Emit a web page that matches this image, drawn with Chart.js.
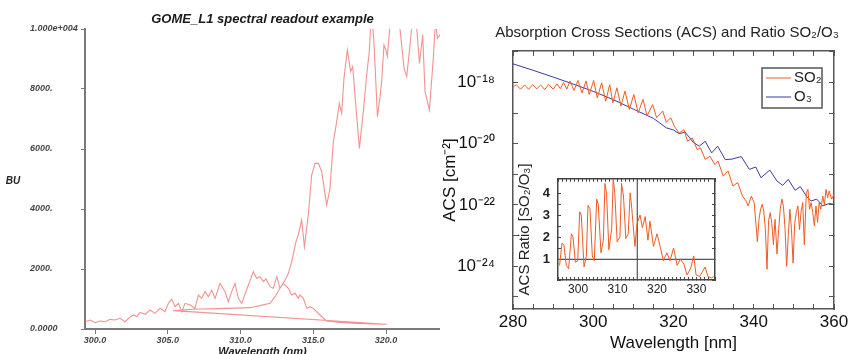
<!DOCTYPE html>
<html>
<head>
<meta charset="utf-8">
<script src="https://cdn.jsdelivr.net/npm/chart.js@4.4.1/dist/chart.umd.min.js"></script>
<style>
  html, body { margin: 0; padding: 0; background: #fff; }
  #wrap { position: relative; width: 856px; height: 354px; overflow: hidden; }
  canvas { position: absolute; }
</style>
</head>
<body>
<div id="wrap">
  <canvas id="gome" width="440" height="354" style="left:0;top:0;width:440px;height:354px"></canvas>
  <canvas id="acs" width="416" height="354" style="left:440px;top:0;width:416px;height:354px"></canvas>
  <canvas id="ratio" width="210" height="140" style="left:515px;top:160px;width:210px;height:140px"></canvas>
</div>
<script>
// ---- left panel: GOME_L1 readout, two channels drawn as one polyline ----
const gomeCh1Wl = [
  299.31, 299.66, 300.00, 300.34, 300.69, 301.03, 301.37, 301.72, 302.06, 302.29,
  302.63, 302.87, 303.09, 303.44, 303.78, 304.12, 304.47, 304.81, 305.04, 305.27,
  305.50, 305.73, 305.96, 306.19, 306.53, 306.87, 307.10, 307.33, 307.56, 307.79,
  308.02, 308.25, 308.59, 308.93, 309.16, 309.39, 309.62, 309.85, 310.08, 310.54,
  310.88, 311.10, 311.34, 311.57, 311.75, 312.03, 312.25, 312.49, 312.71, 312.94,
  313.29, 313.51, 313.75, 313.97, 314.08, 314.32, 314.55, 314.78, 315.00, 315.46,
  315.92, 316.84, 317.99, 319.13, 320.05];
const gomeCh1Bu = [
  243, 300, 210, 267, 243, 322, 300, 356, 243, 356,
  467, 411, 556, 489, 633, 522, 689, 578, 856, 989,
  744, 856, 578, 856, 800, 689, 1133, 1022, 1244, 1078,
  1300, 1022, 1522, 1244, 911, 1244, 1522, 1022, 856, 1467,
  1911, 1689, 1744, 1578, 1667, 1411, 1356, 1744, 1356, 1522,
  1356, 1133, 1189, 1022, 1133, 1022, 689, 744, 689, 467,
  267, 222, 189, 167, 156];
const gomeCh2Wl = [
  305.38, 306.76, 308.50, 310.65, 311.34, 312.03, 312.37, 312.71, 313.06, 313.29,
  313.52, 313.81, 313.97, 314.20, 314.39, 314.66, 314.89, 315.12, 315.35, 315.58,
  315.92, 316.15, 316.38, 316.61, 316.79, 316.95, 317.11, 317.34, 317.57, 317.71,
  317.94, 318.17, 318.44, 318.67, 318.85, 319.00, 319.18, 319.41, 319.59, 319.70,
  319.86, 319.99, 320.09, 320.45, 320.96, 321.24, 321.42, 321.65, 321.95, 322.30,
  322.52, 322.68, 322.98, 323.25, 323.40, 323.53, 323.70, 324.00];
const gomeCh2Bu = [
  611, 656, 680, 711, 778, 856, 1078, 1356, 1633, 1856,
  2244, 2911, 3133, 3633, 2744, 3800, 5133, 5522, 5522, 5244,
  4133, 4689, 6244, 6911, 7522, 7189, 8356, 9300, 8578, 8744,
  7356, 6022, 7244, 8467, 9244, 10600, 9467, 7078, 7744, 8244,
  9467, 9300, 9078, 11200, 10000, 8689, 8411, 9467, 11000, 8856,
  9800, 7911, 7300, 9022, 10300, 9689, 9800, 9900];
const gomeWlTicks = [300, 305, 310, 315, 320];
const gomeWlLabels = ['300.0', '305.0', '310.0', '315.0', '320.0'];
const gomeBuTicks = [0, 2000, 4000, 6000, 8000, 10000];
const gomeBuLabels = ['0.0000', '2000.', '4000.', '6000.', '8000.', '1.000e+004'];

// ---- right panel: absorption cross sections ----
const so2Wl = [
  280.0, 280.8, 281.9, 282.9, 283.9, 284.9, 285.9, 286.9, 287.9, 288.9,
  290.0, 291.0, 291.8, 292.6, 293.4, 294.2, 295.2, 296.2, 297.2, 298.2,
  299.0, 300.1, 301.0, 302.1, 303.1, 304.1, 304.9, 305.9, 306.9, 307.9,
  309.0, 310.1, 311.2, 312.4, 313.4, 314.8, 315.8, 317.3, 318.2, 319.3,
  320.3, 321.4, 322.6, 323.5, 324.7, 325.9, 326.7, 327.9, 329.1, 330.3,
  331.1, 332.4, 333.6, 334.8, 336.0, 337.2, 338.1, 338.6, 339.4, 340.1,
  340.9, 341.3, 341.7, 342.1, 342.5, 342.9, 343.3, 343.7, 344.1, 344.5,
  344.9, 345.3, 345.8, 346.2, 346.6, 347.0, 347.4, 347.8, 348.2, 348.6,
  349.0, 349.4, 349.8, 350.2, 350.6, 351.0, 351.4, 351.8, 352.2, 352.6,
  353.1, 353.5, 353.9, 354.3, 354.7, 355.1, 355.5, 355.9, 356.3, 356.7,
  357.2, 357.6, 358.0, 358.4, 358.8, 359.4, 360.0];
const so2Acs = [
  7.08e-19, 8.51e-19, 6.03e-19, 8.32e-19, 6.03e-19, 8.51e-19, 6.17e-19, 8.32e-19, 5.89e-19, 8.71e-19,
  6.03e-19, 9.12e-19, 6.31e-19, 1.00e-18, 6.03e-19, 1.12e-18, 5.50e-19, 1.17e-18, 4.57e-19, 1.12e-18,
  4.07e-19, 1.17e-18, 3.16e-19, 9.77e-19, 2.45e-19, 8.51e-19, 2.19e-19, 6.76e-19, 1.70e-19, 5.25e-19,
  1.32e-19, 4.07e-19, 1.02e-19, 2.82e-19, 8.13e-20, 1.91e-19, 7.08e-20, 1.17e-19, 5.01e-20, 7.08e-20,
  3.55e-20, 2.24e-20, 2.88e-20, 1.20e-20, 1.55e-20, 6.46e-21, 7.41e-21, 3.09e-21, 3.89e-21, 2.09e-21,
  2.69e-21, 8.71e-22, 1.29e-21, 4.17e-22, 5.37e-22, 1.95e-22, 1.35e-22, 9.33e-23, 1.95e-22, 1.20e-22,
  6.31e-24, 3.39e-23, 7.24e-23, 1.05e-22, 6.31e-23, 1.58e-23, 7.94e-25, 3.16e-23, 5.62e-23, 2.51e-23,
  5.01e-24, 3.39e-23, 2.51e-24, 1.58e-23, 7.24e-23, 1.55e-22, 8.91e-23, 1.58e-23, 1.00e-24, 1.00e-23,
  7.24e-23, 1.58e-23, 1.26e-24, 2.51e-23, 5.62e-23, 9.33e-23, 1.58e-23, 6.31e-23, 1.20e-22, 5.01e-24,
  2.51e-22, 3.24e-22, 7.24e-23, 1.20e-22, 5.62e-23, 2.09e-23, 9.33e-23, 2.69e-23, 1.20e-22, 7.24e-23,
  1.95e-22, 1.00e-22, 3.24e-22, 1.74e-22, 2.88e-22, 1.55e-22, 2.24e-22];
const o3Wl = [
  280, 285, 290, 295, 300, 305, 310, 315, 318.2, 320,
  321.4, 322.9, 324.9, 326.4, 327.9, 329.5, 331.0, 332.9, 334.6, 336.9,
  338.9, 340.5, 341.8, 344.0, 345.8, 347.2, 348.6, 350.3, 351.6, 353.1,
  354.3, 355.7, 357.2, 358.8, 360];
const o3Acs = [
  4.07e-18, 2.51e-18, 1.51e-18, 8.91e-19, 5.13e-19, 2.75e-19, 1.35e-19, 6.76e-20, 3.31e-20, 2.82e-20,
  2.14e-20, 2.40e-20, 1.12e-20, 8.32e-21, 1.20e-20, 5.01e-21, 8.32e-21, 3.02e-21, 3.16e-21, 3.80e-21,
  1.45e-21, 1.74e-21, 7.76e-22, 1.38e-21, 6.03e-22, 4.37e-22, 6.92e-22, 3.02e-22, 3.98e-22, 1.95e-22,
  1.35e-22, 1.55e-22, 9.33e-23, 1.12e-22, 1.05e-22];
const acsWlLabelTicks = [280, 300, 320, 340, 360];
const acsTickValues = [1e-25, 1e-24, 1e-23, 1e-22, 1e-21, 1e-20, 1e-19, 1e-18, 1e-17];
const acsTickLabels = ['', '10⁻²⁴', '', '10⁻²²', '', '10⁻²⁰', '', '10⁻¹⁸', ''];
const acsTitle = 'Absorption Cross Sections (ACS) and Ratio SO₂/O₃';

// ---- inset: SO2/O3 ratio ----
const ratioWl = [
  295.3, 295.9, 296.4, 297.0, 297.6, 298.3, 298.7, 299.3, 299.9, 300.4,
  300.8, 301.5, 302.1, 302.5, 303.0, 303.6, 304.1, 304.7, 305.1, 305.8,
  306.4, 306.8, 307.2, 307.8, 308.5, 308.9, 309.3, 309.9, 310.6, 311.0,
  311.5, 312.1, 312.7, 313.2, 313.6, 314.4, 314.9, 315.7, 316.3, 317.0,
  317.7, 318.2, 319.1, 320.0, 320.8, 321.6, 322.5, 323.3, 324.2, 325.1,
  325.9, 326.8, 327.6, 328.5, 329.3, 329.9, 330.8, 331.5, 332.2, 332.9,
  333.8, 334.4];
const ratioVal = [
  0.73, 1.73, 1.66, 0.73, 0.58, 2.16, 2.02, 0.87, 0.94, 3.16,
  3.01, 0.66, 1.16, 3.44, 3.30, 1.16, 0.94, 3.73, 3.50, 1.30,
  1.87, 4.44, 4.00, 1.44, 2.37, 4.66, 4.00, 1.80, 2.02, 4.44,
  3.87, 1.95, 2.16, 4.01, 3.30, 1.59, 2.59, 3.01, 2.44, 2.94,
  1.87, 2.73, 1.59, 2.16, 1.59, 0.94, 1.30, 0.94, 1.52, 0.73,
  1.01, 0.80, 0.30, 0.58, 1.16, 0.30, 0.23, 0.44, 0.66, 0.23,
  0.16, 0.23];
const ratioWlLabelTicks = [300, 310, 320, 330];
const ratioLabelTicks = [1, 2, 3, 4];
const ratioMarkWl = 315;   // vertical reference line
const ratioMarkVal = 1;    // horizontal reference line

const sans = '"Liberation Sans", Arial, Helvetica, sans-serif';
Chart.defaults.font.family = sans;

const toPoints = (xs, ys) => xs.map((x, i) => ({ x: x, y: ys[i] }));

// "BU" sits left of the left-aligned tick labels, so it is drawn by hand
const buLabel = {
  id: 'buLabel',
  afterDraw(chart) {
    const c = chart.ctx, a = chart.chartArea;
    c.save();
    c.font = 'italic bold 10px ' + sans;
    c.fillStyle = '#222';
    c.textAlign = 'center';
    c.textBaseline = 'middle';
    c.fillText('BU', 13, (a.top + a.bottom) / 2 + 2);
    c.restore();
  }
};

new Chart(document.getElementById('gome'), {
  type: 'line',
  data: {
    datasets: [{
      data: toPoints(gomeCh1Wl, gomeCh1Bu).concat(toPoints(gomeCh2Wl, gomeCh2Bu)),
      borderColor: 'rgba(238,110,110,0.75)',
      borderWidth: 1.1,
      pointRadius: 0,
      tension: 0
    }]
  },
  options: {
    responsive: false,
    animation: false,
    layout: { autoPadding: false, padding: { left: 30, right: 0, top: 0, bottom: 0 } },
    plugins: {
      legend: { display: false },
      tooltip: { enabled: false },
      title: {
        display: true, fullSize: false,
        text: 'GOME_L1 spectral readout example',
        color: '#1a1a1a',
        font: { size: 13, weight: 'bold', style: 'italic' },
        padding: { top: 11.2, bottom: 2.2 }
      }
    },
    scales: {
      x: {
        type: 'linear', min: 299.31, max: 323.71,
        afterBuildTicks: s => { s.ticks = gomeWlTicks.map(v => ({ value: v })); },
        afterFit: s => { s.height = 25; },
        border: { color: '#7a7a7a', width: 2 },
        grid: { drawOnChartArea: false, tickLength: 5, color: '#7a7a7a' },
        ticks: {
          padding: 1, maxRotation: 0, autoSkip: false, color: '#444',
          font: { size: 9, style: 'italic', weight: 'bold' },
          callback: v => gomeWlLabels[gomeWlTicks.indexOf(v)]
        },
        title: {
          display: true, text: 'Wavelength (nm)', color: '#222',
          font: { size: 11, style: 'italic', weight: 'bold', lineHeight: 1 },
          padding: { top: 0, bottom: -3 }
        }
      },
      y: {
        min: 0, max: 10000,
        afterBuildTicks: s => { s.ticks = gomeBuTicks.map(v => ({ value: v })); },
        afterFit: s => { s.width = 55; },
        border: { color: '#7a7a7a', width: 2 },
        grid: { drawOnChartArea: false, tickLength: 4, color: '#7a7a7a' },
        ticks: {
          crossAlign: 'far', autoSkip: false, color: '#444',
          font: { size: 9, style: 'italic', weight: 'bold' },
          callback: v => gomeBuLabels[gomeBuTicks.indexOf(v)]
        }
      }
    }
  },
  plugins: [buLabel]
});

// title and boxed legend of the right panel
const acsDecor = {
  id: 'acsDecor',
  afterDraw(chart) {
    const c = chart.ctx, a = chart.chartArea;
    c.save();
    c.fillStyle = '#222';
    c.font = '15px ' + sans;
    c.textAlign = 'center';
    c.textBaseline = 'middle';
    c.fillText(acsTitle, 227, 33);

    const bx = a.right - 72, by = a.top + 17, bw = 60, bh = 40;
    c.fillStyle = '#fff';
    c.fillRect(bx, by, bw, bh);
    c.strokeStyle = '#555';
    c.lineWidth = 1.5;
    c.strokeRect(bx, by, bw, bh);
    c.font = '15px ' + sans;
    c.textAlign = 'left';
    chart.data.datasets.forEach((ds, i) => {
      const y = by + 10 + i * 19;
      c.strokeStyle = ds.borderColor;
      c.lineWidth = 1;
      c.beginPath();
      c.moveTo(bx + 4, y);
      c.lineTo(bx + 29, y);
      c.stroke();
      c.fillStyle = '#222';
      c.fillText(ds.label, bx + 32, y);
    });
    c.restore();
  }
};

const frame = { color: '#555', width: 1.5 };
const frameGrid = { drawOnChartArea: false, tickLength: -5, color: '#555' };

new Chart(document.getElementById('acs'), {
  type: 'line',
  data: {
    datasets: [
      { label: 'SO₂', data: toPoints(so2Wl, so2Acs), borderColor: '#f05a24', borderWidth: 1, pointRadius: 0 },
      { label: 'O₃', data: toPoints(o3Wl, o3Acs), borderColor: '#3b3b9c', borderWidth: 1, pointRadius: 0 }
    ]
  },
  options: {
    responsive: false,
    animation: false,
    layout: { autoPadding: false, padding: { left: 0, right: 14, top: 51, bottom: 0 } },
    plugins: { legend: { display: false }, tooltip: { enabled: false } },
    scales: {
      x: {
        type: 'linear', position: 'bottom', min: 280, max: 360,
        afterFit: s => { s.height = 45; },
        border: frame, grid: frameGrid,
        ticks: {
          stepSize: 5, autoSkip: false, maxRotation: 0, padding: 7.8, color: '#111',
          font: { size: 17 },
          callback: v => acsWlLabelTicks.includes(v) ? String(v) : ''
        },
        title: {
          display: true, text: 'Wavelength [nm]', color: '#111',
          font: { size: 17 }, padding: { top: 0, bottom: 0.8 }
        }
      },
      x2: {
        type: 'linear', position: 'top', min: 280, max: 360,
        afterFit: s => { s.height = 0; },
        border: frame, grid: frameGrid,
        ticks: { stepSize: 5, autoSkip: false, display: false }
      },
      y: {
        type: 'logarithmic', position: 'left', min: 4.17e-26, max: 1.07e-17,
        afterBuildTicks: s => { s.ticks = acsTickValues.map(v => ({ value: v })); },
        afterFit: s => { s.width = 73; },
        border: frame, grid: frameGrid,
        ticks: {
          autoSkip: false, padding: 23, color: '#111', font: { size: 17 },
          callback: v => acsTickLabels[acsTickValues.indexOf(v)]
        },
        title: {
          display: true, text: 'ACS [cm⁻²]', color: '#111',
          font: { size: 17 }, padding: { top: 0, bottom: 0 }
        }
      },
      y2: {
        type: 'logarithmic', position: 'right', min: 4.17e-26, max: 1.07e-17,
        afterBuildTicks: s => { s.ticks = acsTickValues.map(v => ({ value: v })); },
        afterFit: s => { s.width = 0; },
        border: frame, grid: frameGrid,
        ticks: { display: false }
      }
    }
  },
  plugins: [acsDecor]
});

const insetGrid = { drawOnChartArea: false, tickLength: -3, color: '#444' };
const insetFrame = { color: '#444', width: 1.5 };
const ratioWlMin = 294.9, ratioWlMax = 334.7, ratioMin = 0.07, ratioMax = 4.65;

new Chart(document.getElementById('ratio'), {
  type: 'line',
  data: {
    datasets: [
      { data: toPoints(ratioWl, ratioVal), borderColor: '#f05a24', borderWidth: 1, pointRadius: 0 },
      { data: [{ x: ratioMarkWl, y: ratioMin }, { x: ratioMarkWl, y: ratioMax }], borderColor: '#555', borderWidth: 1.2, pointRadius: 0 },
      { data: [{ x: ratioWlMin, y: ratioMarkVal }, { x: ratioWlMax, y: ratioMarkVal }], borderColor: '#555', borderWidth: 1.2, pointRadius: 0 }
    ]
  },
  options: {
    responsive: false,
    animation: false,
    layout: { autoPadding: false, padding: { left: 0, right: 10, top: 13, bottom: 0 } },
    plugins: { legend: { display: false }, tooltip: { enabled: false } },
    scales: {
      x: {
        type: 'linear', position: 'bottom', min: ratioWlMin, max: ratioWlMax,
        afterFit: s => { s.height = 20; },
        border: insetFrame, grid: insetGrid,
        ticks: {
          stepSize: 1, autoSkip: false, maxRotation: 0, padding: 5.8, color: '#222',
          font: { size: 12 },
          callback: v => ratioWlLabelTicks.includes(v) ? String(v) : ''
        }
      },
      x2: {
        type: 'linear', position: 'top', min: ratioWlMin, max: ratioWlMax,
        afterFit: s => { s.height = 0; },
        border: insetFrame, grid: insetGrid,
        ticks: { stepSize: 1, autoSkip: false, display: false }
      },
      y: {
        min: ratioMin, max: ratioMax,
        afterFit: s => { s.width = 43; },
        border: insetFrame, grid: insetGrid,
        ticks: {
          stepSize: 0.5, autoSkip: false, padding: 11, color: '#222',
          font: { size: 13, weight: 'bold' },
          callback: v => ratioLabelTicks.includes(v) ? String(v) : ''
        },
        title: {
          display: true, text: 'ACS Ratio [SO₂/O₃]', color: '#222',
          font: { size: 15 }, padding: { top: 1, bottom: 0 }
        }
      },
      y2: {
        position: 'right', min: ratioMin, max: ratioMax,
        afterFit: s => { s.width = 0; },
        border: insetFrame, grid: insetGrid,
        ticks: { stepSize: 0.5, autoSkip: false, display: false }
      }
    }
  }
});
</script>
</body>
</html>
